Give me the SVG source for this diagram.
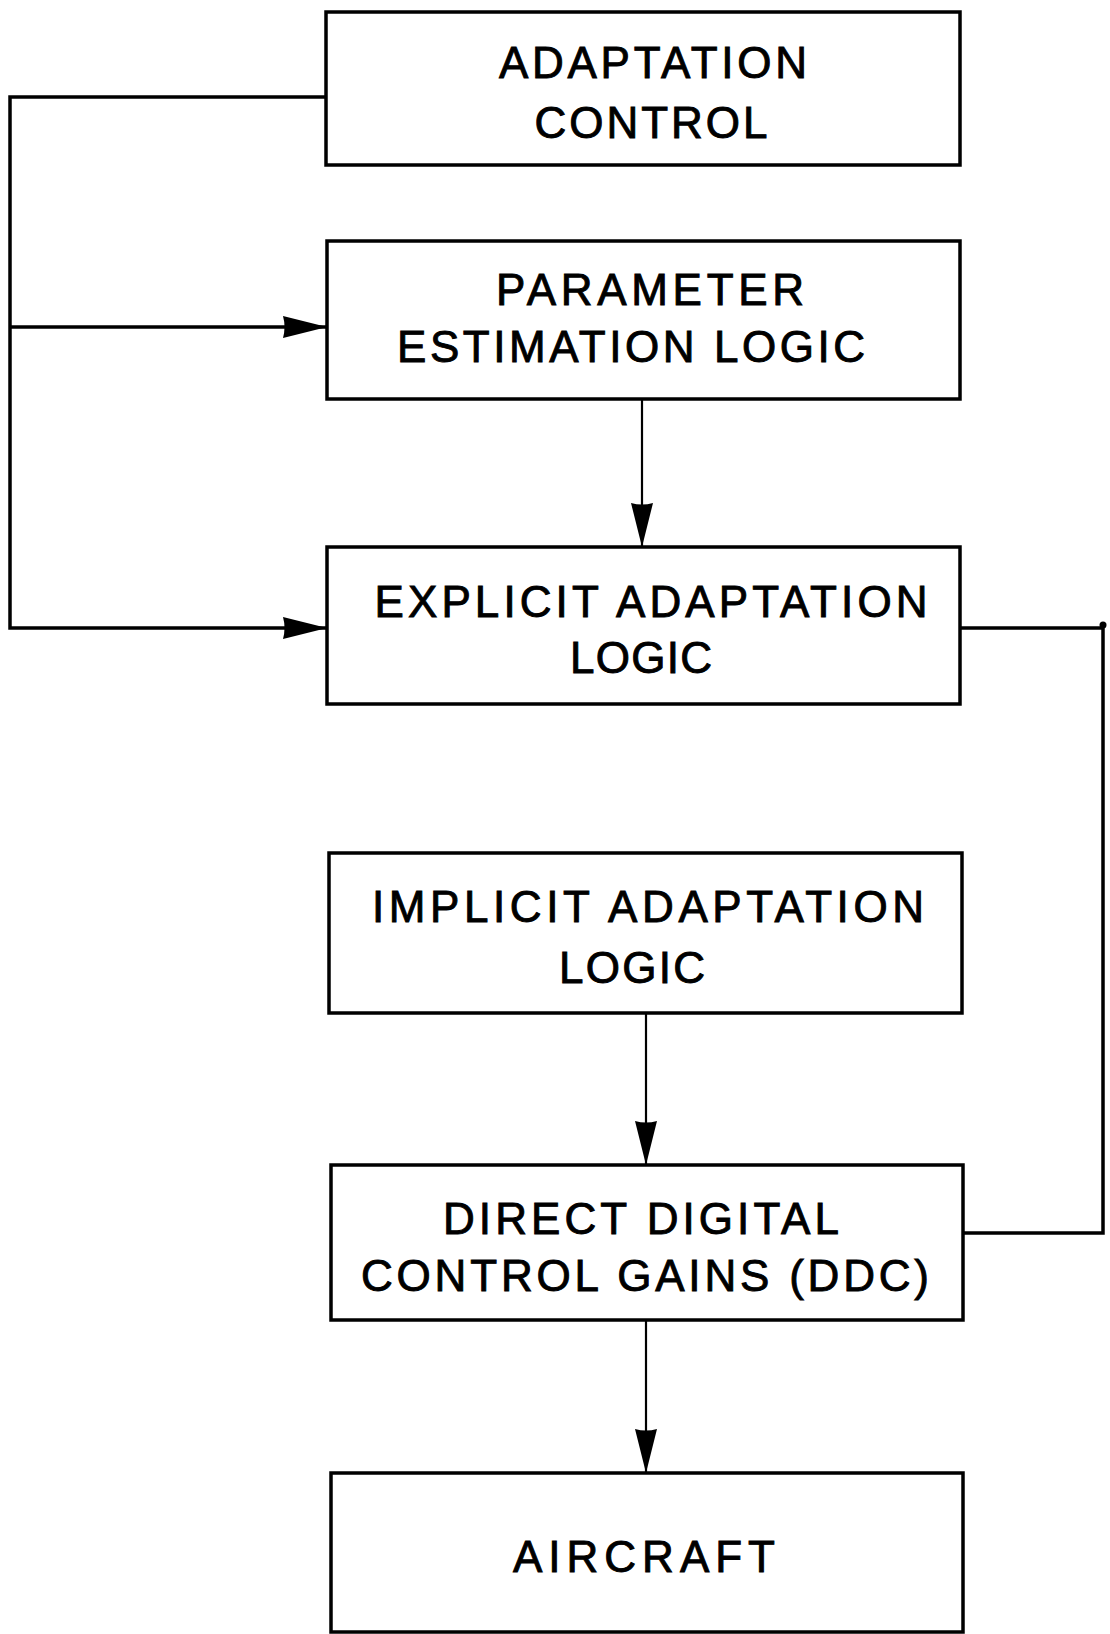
<svg xmlns="http://www.w3.org/2000/svg" width="1110" height="1634" viewBox="0 0 1110 1634">
<style>
  .box { fill: #ffffff; stroke: #000000; stroke-width: 3.5; }
  .lbl { font-family: "Liberation Sans", Arial, sans-serif; font-size: 44px; fill: #000000; stroke: #000000; stroke-width: 0.9; text-anchor: middle; }
  .wire { fill: none; stroke: #000000; stroke-width: 3.5; }
  .thin { fill: none; stroke: #000000; stroke-width: 2.2; }
</style>
<defs>
  <marker id="ah" viewBox="0 0 44 24" refX="44" refY="12" markerWidth="44" markerHeight="24" markerUnits="userSpaceOnUse" orient="auto">
    <path d="M0,1 L44,12 L0,23 Q3,12 0,1 Z" fill="#000000"/>
  </marker>
</defs>
<rect width="1110" height="1634" fill="#ffffff"/>

<g id="connectors">
  <polyline class="wire" points="326,97 10,97 10,628 327,628" marker-end="url(#ah)"/>
  <line class="wire" x1="10" y1="327" x2="327" y2="327" marker-end="url(#ah)"/>
  <line class="thin" x1="642" y1="399" x2="642" y2="547" marker-end="url(#ah)"/>
  <polyline class="wire" points="960,628 1103,628 1103,1233 964,1233"/>
  <circle cx="1103" cy="625" r="3.5" fill="#000000"/>
  <line class="thin" x1="646" y1="1013" x2="646" y2="1165" marker-end="url(#ah)"/>
  <line class="thin" x1="646" y1="1320" x2="646" y2="1473" marker-end="url(#ah)"/>
</g>

<g id="adaptation-control">
  <rect class="box" x="326" y="12" width="634" height="153"/>
  <text class="lbl" x="653" y="78" textLength="308" lengthAdjust="spacing">ADAPTATION</text>
  <text class="lbl" x="651" y="138" textLength="233" lengthAdjust="spacing">CONTROL</text>
</g>

<g id="parameter-estimation-logic">
  <rect class="box" x="327" y="241" width="633" height="158"/>
  <text class="lbl" x="650" y="305" textLength="308" lengthAdjust="spacing">PARAMETER</text>
  <text class="lbl" x="631" y="362" textLength="468" lengthAdjust="spacing">ESTIMATION LOGIC</text>
</g>

<g id="explicit-adaptation-logic">
  <rect class="box" x="327" y="547" width="633" height="157"/>
  <text class="lbl" x="651" y="617" textLength="553" lengthAdjust="spacing">EXPLICIT ADAPTATION</text>
  <text class="lbl" x="641" y="673" textLength="142" lengthAdjust="spacing">LOGIC</text>
</g>

<g id="implicit-adaptation-logic">
  <rect class="box" x="329" y="853" width="633" height="160"/>
  <text class="lbl" x="648" y="922" textLength="552" lengthAdjust="spacing">IMPLICIT ADAPTATION</text>
  <text class="lbl" x="632" y="983" textLength="146" lengthAdjust="spacing">LOGIC</text>
</g>

<g id="ddc-gains">
  <rect class="box" x="331" y="1165" width="632" height="155"/>
  <text class="lbl" x="641" y="1234" textLength="396" lengthAdjust="spacing">DIRECT DIGITAL</text>
  <text class="lbl" x="645" y="1291" textLength="568" lengthAdjust="spacing">CONTROL GAINS (DDC)</text>
</g>

<g id="aircraft">
  <rect class="box" x="331" y="1473" width="632" height="159"/>
  <text class="lbl" x="644" y="1572" textLength="262" lengthAdjust="spacing">AIRCRAFT</text>
</g>
</svg>
